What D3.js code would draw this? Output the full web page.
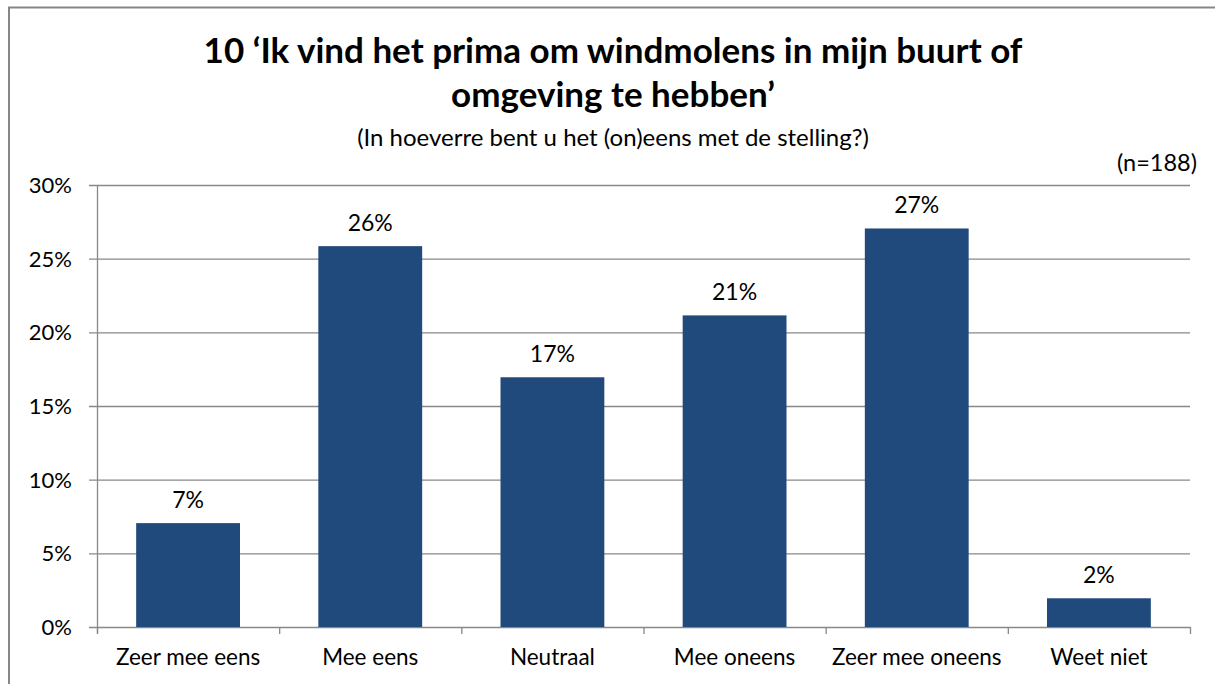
<!DOCTYPE html>
<html><head><meta charset="utf-8">
<script src="https://cdn.jsdelivr.net/npm/d3@7"></script>
<style>body{margin:0;background:#fff}svg{display:block}text{font-family:Lato,"Open Sans",sans-serif;fill:#000}</style>
</head><body><svg id="c" width="1215" height="684"></svg>
<script>
const categories = ["Zeer mee eens","Mee eens","Neutraal","Mee oneens","Zeer mee oneens","Weet niet"];
const values = [7.05, 25.85, 16.95, 21.15, 27.05, 1.95];
const valueLabels = ["7%","26%","17%","21%","27%","2%"];
const yTicks = [0,5,10,15,20,25,30];
const titleLines = ["10 \u2018Ik vind het prima om windmolens in mijn buurt of","omgeving te hebben\u2019"];
const subtitle = "(In hoeverre bent u het (on)eens met de stelling?)";
const nLabel = "(n=188)";

const svg = d3.select("#c");
svg.append("rect").attr("x",9).attr("y",7.5).attr("width",1220).attr("height",700)
  .attr("fill","none").attr("stroke","#878787").attr("stroke-width",2);

const L=97, R=1190, T=185, B=627;
const x = d3.scaleBand().domain(categories).range([L,R]).paddingInner(0.43).paddingOuter(0.215);
const y = d3.scaleLinear().domain([0,30]).range([B,T]);

svg.append("g").selectAll("line").data(yTicks).join("line")
  .attr("x1",L-8).attr("x2",R).attr("y1",d=>y(d)+0.5).attr("y2",d=>y(d)+0.5)
  .attr("stroke","#888").attr("stroke-width",1.3);
svg.append("line").attr("x1",L+0.5).attr("x2",L+0.5).attr("y1",T).attr("y2",B+6).attr("stroke","#888").attr("stroke-width",1.3);
const bounds = d3.range(categories.length+1).map(i=>L+i*(R-L)/categories.length);
svg.append("g").selectAll("line").data(bounds).join("line")
  .attr("x1",d=>d+0.5).attr("x2",d=>d+0.5).attr("y1",B).attr("y2",B+7).attr("stroke","#888").attr("stroke-width",1.3);

svg.append("g").selectAll("text").data(yTicks).join("text")
  .attr("x",72).attr("y",d=>y(d)+8).attr("text-anchor","end").attr("font-size",22)
  .text(d=>d+"%");

svg.append("g").selectAll("rect").data(values).join("rect")
  .attr("x",(d,i)=>x(categories[i])).attr("width",x.bandwidth())
  .attr("y",d=>y(d)).attr("height",d=>B-y(d)).attr("fill","#214A7C");

svg.append("g").selectAll("text").data(values).join("text")
  .attr("x",(d,i)=>x(categories[i])+x.bandwidth()/2).attr("y",d=>y(d)-15)
  .attr("text-anchor","middle").attr("font-size",23).text((d,i)=>valueLabels[i]);

svg.append("g").selectAll("text").data(categories).join("text")
  .attr("x",d=>x(d)+x.bandwidth()/2).attr("y",665).attr("text-anchor","middle").attr("font-size",22.5).text(d=>d);

svg.append("g").selectAll("text").data(titleLines).join("text")
  .attr("x",613).attr("y",(d,i)=>63+i*44).attr("text-anchor","middle").attr("font-size",35).attr("font-weight","bold").text(d=>d);
svg.append("text").attr("x",613).attr("y",146).attr("text-anchor","middle").attr("font-size",24).text(subtitle);
svg.append("text").attr("x",1197).attr("y",171).attr("text-anchor","end").attr("font-size",23.5).text(nLabel);
</script></body></html>
